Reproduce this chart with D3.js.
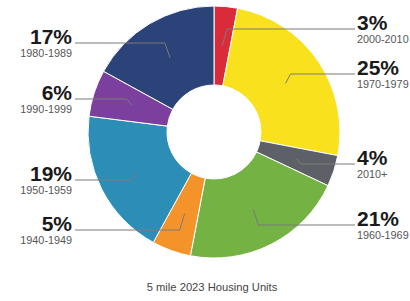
<!DOCTYPE html>
<html><head><meta charset="utf-8">
<script src="https://cdn.jsdelivr.net/npm/d3@7"></script>
<style>html,body{margin:0;padding:0;background:#fff;}svg{display:block;}</style>
</head><body>
<svg id="chart" width="410" height="301"></svg>
<script>
// Data (clockwise from 12 o'clock)
const categories = ["2000-2010","1970-1979","2010+","1960-1969","1940-1949","1950-1959","1990-1999","1980-1989"];
const values = [3, 25, 4, 21, 5, 19, 6, 17];
const colors = ["#da2b3b","#f9e11e","#5e6068","#74b244","#f5932b","#2c8eb6","#7b409d","#2b4379"];
const caption = "5 mile 2023 Housing Units";
// label layout (leader line y for each label)
const labelLineY = [29, 74, 164, 225, 230, 180, 99, 43];

const svg = d3.select("#chart");
const cx = 214, cy = 132, rOuter = 126, rInner = 47;
const g = svg.append("g").attr("transform", `translate(${cx},${cy})`);

const data = categories.map((c, i) => ({cat: c, value: values[i], color: colors[i], ly: labelLineY[i]}));
const pie = d3.pie().value(d => d.value).sort(null);
const arc = d3.arc().innerRadius(rInner).outerRadius(rOuter);
const arcs = pie(data);

g.selectAll("path.slice").data(arcs).join("path")
  .attr("class", "slice")
  .attr("d", arc)
  .attr("fill", d => d.data.color)
  .attr("stroke", "#fff")
  .attr("stroke-width", 1);

const rightX = 357 - cx, leftX = 72 - cx;
arcs.forEach(a => {
  const [px, py] = arc.centroid(a);
  const mid = (a.startAngle + a.endAngle) / 2;
  const right = mid < Math.PI;
  const side = right ? 1 : -1;
  const ly = a.data.ly - cy;
  const ex = px + side * 5;
  const endX = right ? rightX - 2 : leftX + 3;
  g.append("polyline")
    .attr("points", [[px, py], [ex, ly], [endX, ly]].map(p => p.join(",")).join(" "))
    .attr("fill", "none")
    .attr("stroke", "#7a7a7a")
    .attr("stroke-width", 1);
  const tx = right ? rightX : leftX;
  const anchor = right ? "start" : "end";
  g.append("text")
    .attr("x", tx).attr("y", ly + 1)
    .attr("text-anchor", anchor)
    .attr("font-family", "Liberation Sans, Arial, sans-serif")
    .attr("font-weight", "bold")
    .attr("font-size", 21)
    .attr("fill", "#1a1a1a")
    .text(a.data.value + "%");
  g.append("text")
    .attr("x", tx).attr("y", ly + 14)
    .attr("text-anchor", anchor)
    .attr("font-family", "Liberation Sans, Arial, sans-serif")
    .attr("font-size", 10.8)
    .attr("fill", "#555")
    .text(a.data.cat);
});

svg.append("text")
  .attr("x", 212).attr("y", 291)
  .attr("text-anchor", "middle")
  .attr("font-family", "Liberation Sans, Arial, sans-serif")
  .attr("font-size", 11.2)
  .attr("fill", "#444")
  .text(caption);
</script>
</body></html>
